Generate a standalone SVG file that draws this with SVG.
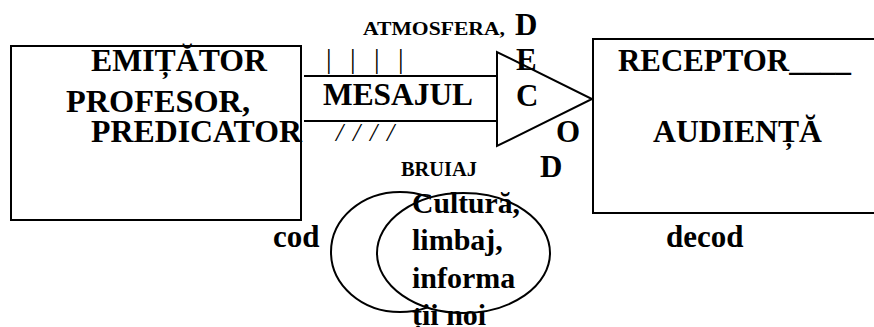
<svg xmlns="http://www.w3.org/2000/svg" width="874" height="327" viewBox="0 0 874 327">
<style>
  text { font-family: 'Liberation Serif', 'Times New Roman', serif; font-weight: bold; fill: #000; }
  .shape { fill: #fff; stroke: #000; stroke-width: 2; }
  .ln { stroke: #000; stroke-width: 2; fill: none; }
</style>
<rect width="874" height="327" fill="#fff"/>
<g id="emitator" font-family="Liberation Serif" font-weight="bold" font-size="31">
  <rect class="shape" x="11" y="46" width="290" height="174"/>
  <text x="91" y="71" textLength="176" lengthAdjust="spacingAndGlyphs">EMIȚĂTOR</text>
  <text x="66" y="112" textLength="184" lengthAdjust="spacingAndGlyphs">PROFESOR,</text>
  <text x="91" y="142" textLength="211" lengthAdjust="spacingAndGlyphs">PREDICATOR</text>
</g>
<g id="receptor" font-family="Liberation Serif" font-weight="bold" font-size="31">
  <rect class="shape" x="593" y="39" width="290" height="174"/>
  <text x="618" y="71" textLength="233" lengthAdjust="spacingAndGlyphs">RECEPTOR____</text>
  <text x="653" y="142" textLength="169" lengthAdjust="spacingAndGlyphs">AUDIENȚĂ</text>
</g>
<g id="connectors">
  <line class="ln" x1="304" y1="76" x2="497" y2="76"/>
  <line class="ln" x1="304" y1="121" x2="497" y2="121"/>
</g>
<g id="mesaj" font-family="Liberation Serif" font-weight="bold">
  <text x="323" y="105" font-size="31" textLength="150" lengthAdjust="spacingAndGlyphs">MESAJUL</text>
  <text x="363" y="35" font-size="18" textLength="142" lengthAdjust="spacingAndGlyphs">ATMOSFERA,</text>
  <text x="326 350 374 398" y="68" font-size="28" style="font-weight:normal">||||</text>
  <text x="336 353 370 387" y="141" font-size="26" style="font-weight:normal;font-style:italic">////</text>
  <text x="401" y="176" font-size="20" textLength="76" lengthAdjust="spacingAndGlyphs">BRUIAJ</text>
</g>
<g id="decodor" font-family="Liberation Serif" font-weight="bold" font-size="31">
  <polygon class="shape" points="497,52 497,146 592,99"/>
  <text x="515" y="35">D</text>
  <text x="516" y="70">E</text>
  <text x="516" y="106">C</text>
  <text x="556" y="142">O</text>
  <text x="540" y="177">D</text>
</g>
<g id="cod" font-family="Liberation Serif" font-weight="bold" font-size="30">
  <ellipse class="shape" cx="400" cy="252" rx="69" ry="60"/>
  <ellipse class="shape" cx="463.5" cy="253" rx="86.5" ry="60"/>
  <text x="412" y="213" textLength="108" lengthAdjust="spacingAndGlyphs">Cultură,</text>
  <text x="412" y="250">limbaj,</text>
  <text x="412" y="288">informa</text>
  <text x="412" y="325">ții noi</text>
  <text x="273" y="247" font-size="31">cod</text>
  <text x="666" y="247" font-size="31">decod</text>
</g>
</svg>
